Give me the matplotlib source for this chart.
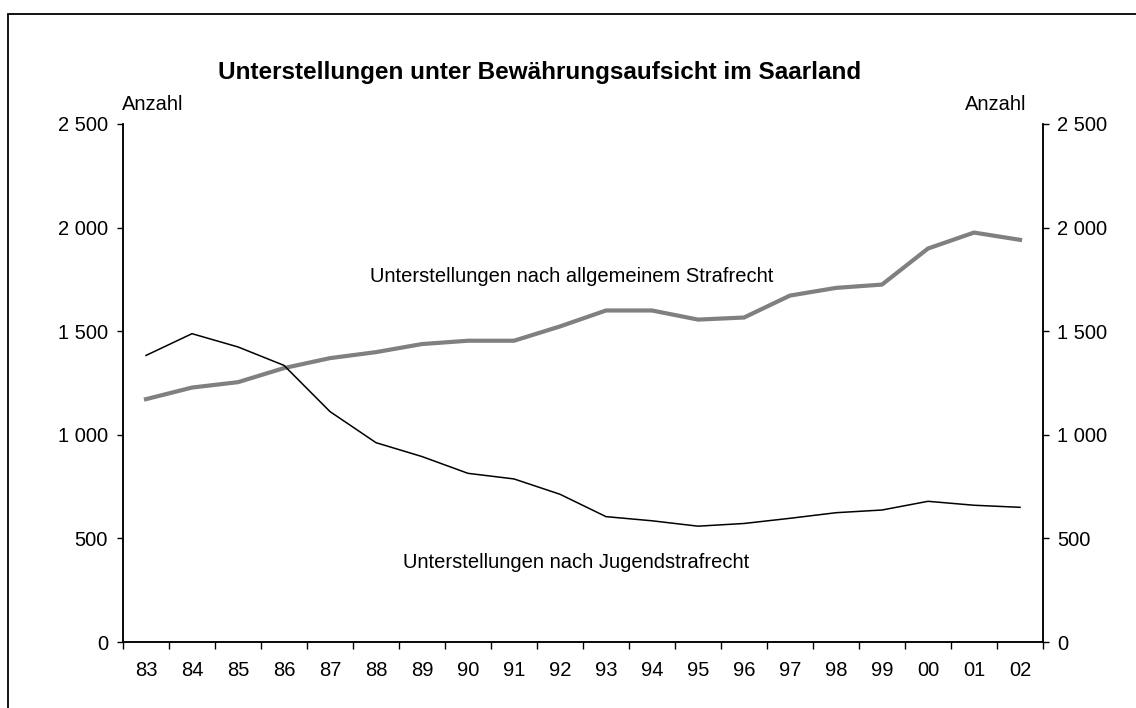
import matplotlib.pyplot as plt
from matplotlib.patches import Rectangle
from matplotlib.ticker import FuncFormatter

plt.rcParams['font.family'] = ['Liberation Sans', 'DejaVu Sans']

jahre = ['83', '84', '85', '86', '87', '88', '89', '90', '91', '92',
         '93', '94', '95', '96', '97', '98', '99', '00', '01', '02']
allgemein = [1172, 1228, 1254, 1322, 1370, 1399, 1438, 1454, 1454, 1523,
             1600, 1600, 1556, 1566, 1672, 1709, 1725, 1899, 1976, 1941]
jugend = [1383, 1488, 1424, 1335, 1112, 962, 895, 814, 787, 713,
          605, 585, 559, 572, 597, 624, 637, 679, 660, 650]
y_ticks = [0, 500, 1000, 1500, 2000, 2500]

W, H = 1136, 708
fs = 14.5
fig = plt.figure(figsize=(W / 100, H / 100), dpi=100)
# outer frame, cut off at right and bottom like the original
fig.patches.append(Rectangle((8 / W, -0.1), 1.2, 1 - 14 / H + 0.1, transform=fig.transFigure,
                             fill=False, edgecolor='black', linewidth=1.3))

ax = fig.add_axes([123 / W, 1 - 642 / H, (1043 - 123) / W, (642 - 124) / H])
x = list(range(len(jahre)))
ax.plot(x, allgemein, color='#808080', linewidth=3.0, solid_joinstyle='miter')
ax.plot(x, jugend, color='black', linewidth=1.1)

ax.set_xlim(-0.5, len(jahre) - 0.5)
ax.set_ylim(0, 2500)

fmt = FuncFormatter(lambda v, p: '{:,}'.format(int(v)).replace(',', ' '))
ax.set_yticks(y_ticks)
ax.yaxis.set_major_formatter(fmt)
ax.tick_params(axis='y', direction='out', length=4.3, width=1, pad=6.5, labelsize=fs)

ax.set_xticks([i - 0.5 for i in range(len(jahre) + 1)])
ax.set_xticklabels([])
ax.set_xticks(x, minor=True)
ax.set_xticklabels(jahre, minor=True, fontsize=fs)
ax.tick_params(axis='x', which='major', direction='out', length=5, width=1)
ax.tick_params(axis='x', which='minor', length=0, pad=14)

ax2 = ax.twinx()
ax2.set_ylim(0, 2500)
ax2.set_yticks(y_ticks)
ax2.yaxis.set_major_formatter(fmt)
ax2.tick_params(axis='y', direction='out', length=4.3, width=1, pad=6, labelsize=fs)

for a in (ax, ax2):
    for s in a.spines.values():
        s.set_linewidth(1.1)
ax.spines['top'].set_visible(False)
ax2.spines['top'].set_visible(False)

fig.text(540 / W, 1 - 72 / H, 'Unterstellungen unter Bewährungsaufsicht im Saarland',
         ha='center', va='center', fontsize=17.5, fontweight='bold')
fig.text(122 / W, 1 - 105 / H, 'Anzahl', ha='left', va='center', fontsize=fs)
fig.text(1026 / W, 1 - 105 / H, 'Anzahl', ha='right', va='center', fontsize=fs)
fig.text(572 / W, 1 - 277 / H, 'Unterstellungen nach allgemeinem Strafrecht',
         ha='center', va='center', fontsize=fs)
fig.text(576 / W, 1 - 562 / H, 'Unterstellungen nach Jugendstrafrecht',
         ha='center', va='center', fontsize=fs)

fig.savefig('out.png', dpi=100)
